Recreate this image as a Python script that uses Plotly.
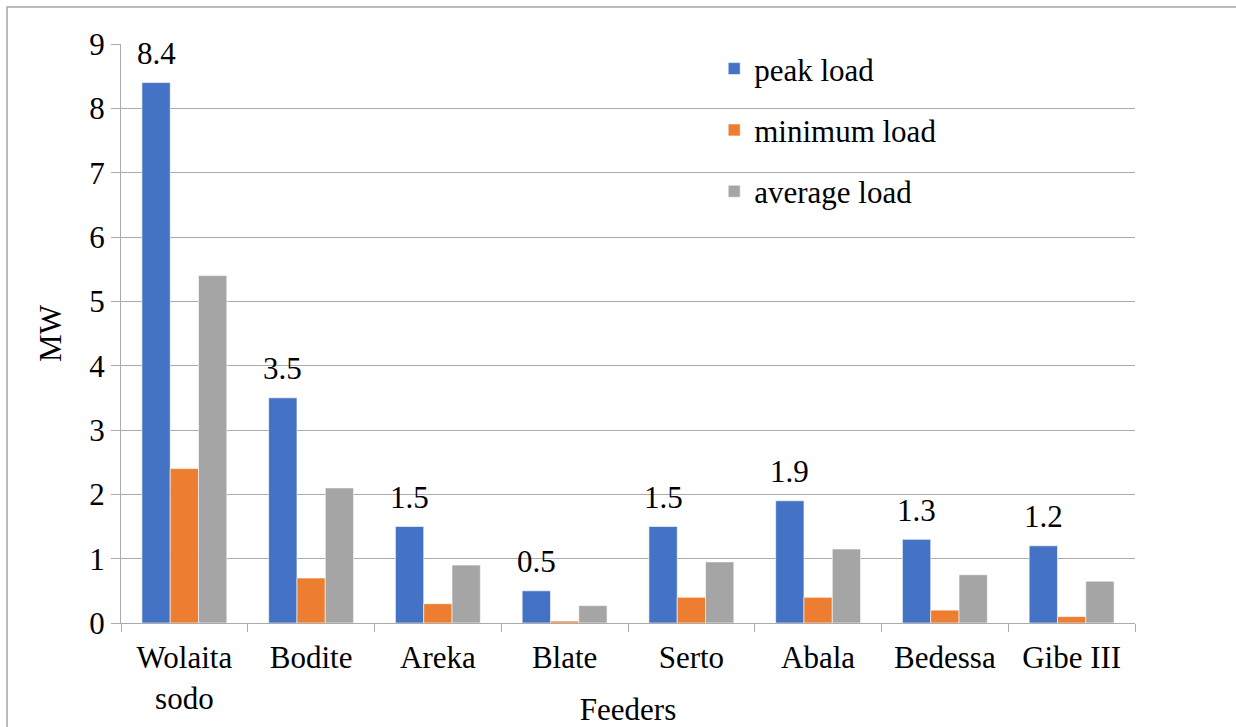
import plotly.graph_objects as go

# Feeder load summary (MW)
feeders = ["Wolaita<br>sodo", "Bodite", "Areka", "Blate", "Serto", "Abala", "Bedessa", "Gibe III"]
peak_load = [8.4, 3.5, 1.5, 0.5, 1.5, 1.9, 1.3, 1.2]
minimum_load = [2.4, 0.7, 0.3, 0.03, 0.4, 0.4, 0.2, 0.1]
average_load = [5.4, 2.1, 0.9, 0.27, 0.95, 1.15, 0.75, 0.65]
y_ticks = [0, 1, 2, 3, 4, 5, 6, 7, 8, 9]

FONT = "Liberation Serif, Times New Roman, serif"
FS = 31
GRID = "#ababab"
BARGAP = 0.33

series = [
    ("peak load", peak_load, "#4472C4"),
    ("minimum load", minimum_load, "#ED7D31"),
    ("average load", average_load, "#A5A5A5"),
]

fig = go.Figure()
for name, vals, color in series:
    fig.add_trace(go.Bar(
        x=feeders, y=vals, name=name, legendgroup=name,
        marker=dict(color=color, line=dict(color="white", width=0.6)),
    ))

# value labels above the peak-load bars
bar_w = (1 - BARGAP) / 3
for i, v in enumerate(peak_load):
    fig.add_annotation(
        x=i - bar_w, y=v, xref="x", yref="y",
        text=f"{v:g}", showarrow=False, yanchor="middle", yshift=29,
        font=dict(family=FONT, size=FS, color="black"),
    )

# outer chart frame
fig.add_shape(type="rect", xref="paper", yref="paper",
              x0=-0.1124, x1=1.3, y0=-0.4, y1=1.0639,
              line=dict(color="#a6a6a6", width=1.5), layer="below")

fig.update_layout(
    width=1236, height=727,
    margin=dict(l=121, r=101, t=44, b=104),
    paper_bgcolor="white", plot_bgcolor="white",
    barmode="group", bargap=BARGAP, bargroupgap=0,
    font=dict(family=FONT, size=FS, color="black"),
    showlegend=True,
    legend=dict(
        x=0.585, y=1.0035, xanchor="left", yanchor="top",
        bgcolor="rgba(0,0,0,0)", traceorder="grouped", tracegroupgap=18,
        font=dict(family=FONT, size=FS, color="black"),
    ),
    xaxis=dict(
        type="category", showgrid=False, showline=True, linecolor=GRID, linewidth=1.2,
        ticks="outside", tickson="boundaries", ticklen=8, tickcolor=GRID, tickwidth=1.2,
        ticklabelstandoff=7,
        title=dict(text="Feeders", font=dict(family=FONT, size=FS), standoff=6),
        tickfont=dict(family=FONT, size=FS), automargin=False,
    ),
    yaxis=dict(
        range=[0, 9], tickvals=y_ticks,
        showgrid=True, gridcolor=GRID, gridwidth=1.2,
        showline=True, linecolor=GRID, linewidth=1.2, zeroline=False,
        ticks="outside", ticklen=9, tickcolor=GRID, tickwidth=1.2,
        title=dict(text="MW", font=dict(family=FONT, size=FS), standoff=18),
        tickfont=dict(family=FONT, size=FS), automargin=False,
    ),
)

fig.write_html("out.html")
